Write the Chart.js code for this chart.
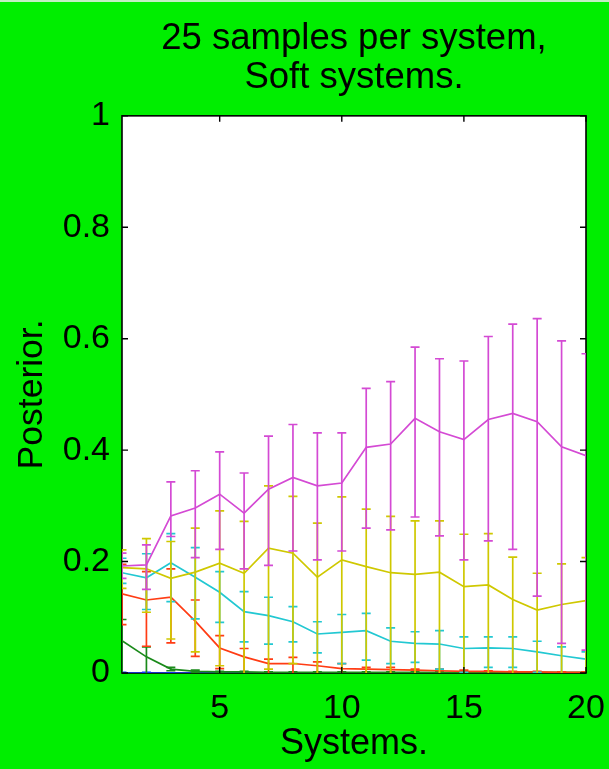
<!DOCTYPE html>
<html>
<head>
<meta charset="utf-8">
<script src="https://cdn.jsdelivr.net/npm/chart.js@4/dist/chart.umd.min.js"></script>
<style>
  html, body { margin: 0; padding: 0; background: #00ee00; }
  #wrap { width: 609px; height: 769px; }
</style>
</head>
<body>
<div id="wrap"><canvas id="chart" width="609" height="769"></canvas></div>
<script>
// Number of systems on the x axis
const systems = [1, 2, 3, 4, 5, 6, 7, 8, 9, 10, 11, 12, 13, 14, 15, 16, 17, 18, 19, 20];

// Posterior per model: mean with lower / upper error limits
const magentaMean = [0.192, 0.194, 0.282, 0.296, 0.321, 0.287, 0.330, 0.351, 0.336, 0.341, 0.405, 0.411, 0.457, 0.433, 0.419, 0.455, 0.466, 0.451, 0.406, 0.390];
const magentaHigh = [0.215, 0.230, 0.343, 0.363, 0.397, 0.359, 0.425, 0.446, 0.431, 0.431, 0.511, 0.523, 0.585, 0.564, 0.560, 0.604, 0.626, 0.636, 0.596, 0.573];
const magentaLow  = [0.170, 0.150, 0.245, 0.207, 0.222, 0.187, 0.193, 0.219, 0.203, 0.219, 0.260, 0.257, 0.280, 0.246, 0.203, 0.237, 0.222, 0.138, 0.053, 0.041];

const yellowMean = [0.189, 0.187, 0.170, 0.181, 0.197, 0.179, 0.224, 0.215, 0.172, 0.203, 0.191, 0.180, 0.177, 0.181, 0.155, 0.158, 0.132, 0.113, 0.123, 0.130];
const yellowHigh = [0.221, 0.241, 0.236, 0.260, 0.291, 0.272, 0.336, 0.317, 0.269, 0.316, 0.294, 0.281, 0.273, 0.273, 0.249, 0.250, 0.208, 0.179, 0.196, 0.207];
const yellowLow  = [0.152, 0.109, 0.061, 0.038, 0.013, -0.01, 0.007, 0.017, -0.01, -0.01, -0.01, -0.01, -0.01, -0.01, -0.01, -0.01, -0.01, -0.01, -0.01, -0.01];

const cyanMean = [0.180, 0.171, 0.198, 0.172, 0.145, 0.110, 0.103, 0.092, 0.070, 0.073, 0.076, 0.057, 0.053, 0.052, 0.044, 0.045, 0.044, 0.038, 0.031, 0.025];
const cyanHigh = [0.206, 0.214, 0.250, 0.225, 0.182, 0.146, 0.136, 0.119, 0.092, 0.105, 0.107, 0.081, 0.074, 0.076, 0.065, 0.065, 0.065, 0.057, 0.047, 0.038];
const cyanLow  = [0.161, 0.114, 0.128, 0.097, 0.091, 0.056, 0.052, 0.056, 0.036, 0.017, 0.023, 0.017, 0.019, 0.007, 0.001, 0.010, 0.010, 0.001, -0.01, -0.01];

const redMean = [0.142, 0.131, 0.136, 0.093, 0.045, 0.029, 0.017, 0.017, 0.013, 0.008, 0.007, 0.006, 0.005, 0.004, 0.003, 0.003, 0.002, 0.002, 0.001, 0.001];
const redHigh = [0.195, 0.182, 0.187, 0.131, 0.067, 0.044, 0.025, 0.028, 0.020, 0.017, 0.010, 0.010, 0.007, 0.007, 0.005, 0.004, 0.003, 0.003, 0.002, 0.002];
const redLow  = [0.087, 0.048, 0.054, 0.030, 0.008, -0.01, -0.01, -0.01, -0.01, -0.01, -0.01, -0.01, -0.01, -0.01, -0.01, -0.01, -0.01, -0.01, -0.01, -0.01];

const greenMean = [0.058, 0.029, 0.007, 0.003, 0.002, 0.002, 0.001, 0.001, 0.001, 0.001, 0.001, 0.001, 0.001, 0.001, 0.001, 0.001, 0.001, 0.001, 0.001, 0.001];
const greenHigh = [0.096, 0.047, 0.010, 0.005, 0.003, 0.003, 0.002, 0.002, 0.002, 0.002, 0.002, 0.002, 0.002, 0.002, 0.002, 0.002, 0.002, 0.002, 0.002, 0.002];
const greenLow  = [-0.01, -0.01, 0.004, 0.001, 0.000, 0.000, 0.000, 0.000, 0.000, 0.000, 0.000, 0.000, 0.000, 0.000, 0.000, 0.000, 0.000, 0.000, 0.000, 0.000];

const blueMean = [0.000, 0.000, 0.000, 0.000, 0.000, 0.000, 0.000, 0.000, 0.000, 0.000, 0.000, 0.000, 0.000, 0.000, 0.000, 0.000, 0.000, 0.000, 0.000, 0.000];
const blueHigh = [0.001, 0.001, 0.000, 0.000, 0.000, 0.000, 0.000, 0.000, 0.000, 0.000, 0.000, 0.000, 0.000, 0.000, 0.000, 0.000, 0.000, 0.000, 0.000, 0.000];
const blueLow  = [0.000, 0.000, 0.000, 0.000, 0.000, 0.000, 0.000, 0.000, 0.000, 0.000, 0.000, 0.000, 0.000, 0.000, 0.000, 0.000, 0.000, 0.000, 0.000, 0.000];

// Axis ticks and texts
const xTicks = [5, 10, 15, 20];
const yTicks = [0, 0.2, 0.4, 0.6, 0.8, 1];
const titleLines = ['25 samples per system,', 'Soft systems.'];
const xTitle = 'Systems.';
const yTitle = 'Posterior.';

const FONT = '"Liberation Sans", Arial, Helvetica, sans-serif';
const BG = '#00ee00';

function series(color, mean, low, high) {
  return {
    data: systems.map((x, i) => ({ x: x, y: mean[i] })),
    errLow: low,
    errHigh: high,
    borderColor: color,
    backgroundColor: color,
    borderWidth: 1.7,
    pointRadius: 0,
    tension: 0,
    fill: false
  };
}

// Background, plot box, inward tick marks and error bars
const framePlugin = {
  id: 'frame',
  beforeDraw(chart) {
    const { ctx, chartArea: a } = chart;
    ctx.save();
    ctx.fillStyle = BG;
    ctx.fillRect(0, 0, chart.width, chart.height);
    ctx.fillStyle = '#c4eec4';
    ctx.fillRect(0, 0, chart.width, 2);
    ctx.fillStyle = '#ffffff';
    ctx.fillRect(a.left, a.top, a.right - a.left, a.bottom - a.top);
    ctx.restore();
  },
  beforeDatasetsDraw(chart) {
    const { ctx, chartArea: a } = chart;
    ctx.save();
    ctx.strokeStyle = '#000';
    ctx.lineWidth = 1.6;
    ctx.strokeRect(a.left, a.top, a.right - a.left, a.bottom - a.top);
    ctx.restore();
  },
  afterDatasetDraw(chart, args) {
    const ds = chart.data.datasets[args.index];
    const { ctx, chartArea: a } = chart;
    const xs = chart.scales.x, ys = chart.scales.y;
    ctx.save();
    ctx.beginPath();
    ctx.rect(a.left, a.top, a.right - a.left, a.bottom - a.top);
    ctx.clip();
    ctx.strokeStyle = ds.borderColor;
    ctx.lineWidth = 1.7;
    const cap = 4.5;
    systems.forEach((x, i) => {
      const px = xs.getPixelForValue(x);
      const yl = ys.getPixelForValue(ds.errLow[i]);
      const yh = ys.getPixelForValue(ds.errHigh[i]);
      ctx.beginPath();
      ctx.moveTo(px, yl); ctx.lineTo(px, yh);
      ctx.moveTo(px - cap, yl); ctx.lineTo(px + cap, yl);
      ctx.moveTo(px - cap, yh); ctx.lineTo(px + cap, yh);
      ctx.stroke();
    });
    ctx.restore();
  },
  afterDatasetsDraw(chart) {
    const { ctx, chartArea: a } = chart;
    const xs = chart.scales.x, ys = chart.scales.y;
    const len = 6;
    ctx.save();
    ctx.strokeStyle = '#000';
    ctx.lineWidth = 1.4;
    ctx.beginPath();
    yTicks.forEach(v => {
      const py = ys.getPixelForValue(v);
      ctx.moveTo(a.left, py); ctx.lineTo(a.left + len, py);
      ctx.moveTo(a.right, py); ctx.lineTo(a.right - len, py);
    });
    xTicks.forEach(v => {
      const px = xs.getPixelForValue(v);
      ctx.moveTo(px, a.bottom); ctx.lineTo(px, a.bottom - len);
      ctx.moveTo(px, a.top); ctx.lineTo(px, a.top + len);
    });
    ctx.stroke();
    ctx.restore();
  }
};

new Chart(document.getElementById('chart'), {
  type: 'line',
  data: {
    datasets: [
      series('#d44ad4', magentaMean, magentaLow, magentaHigh),
      series('#cfc800', yellowMean, yellowLow, yellowHigh),
      series('#22c8d2', cyanMean, cyanLow, cyanHigh),
      series('#ff3c14', redMean, redLow, redHigh),
      series('#1a8a1a', greenMean, greenLow, greenHigh),
      series('#1030ff', blueMean, blueLow, blueHigh)
    ]
  },
  options: {
    responsive: false,
    animation: false,
    devicePixelRatio: 1,
    layout: { padding: { left: 0, right: 23, top: 0, bottom: 0 } },
    plugins: {
      legend: { display: false },
      tooltip: { enabled: false },
      title: {
        display: true,
        fullSize: false,
        text: titleLines,
        color: '#000',
        font: { family: FONT, size: 36.5, weight: 'normal', lineHeight: 1.08 },
        padding: { top: 19, bottom: 18 }
      }
    },
    scales: {
      x: {
        type: 'linear',
        min: 1,
        max: 20,
        grid: { display: false, drawTicks: false },
        border: { display: false },
        afterBuildTicks: s => { s.ticks = xTicks.map(v => ({ value: v })); },
        afterFit: s => { s.height = 96; s.paddingLeft = 0; s.paddingRight = 0; },
        ticks: {
          color: '#000',
          autoSkip: false,
          maxRotation: 0,
          padding: 15,
          font: { family: FONT, size: 34 },
          callback: v => String(v)
        },
        title: {
          display: true,
          text: xTitle,
          color: '#000',
          font: { family: FONT, size: 36 },
          padding: { top: 0, bottom: 3 }
        }
      },
      y: {
        type: 'linear',
        min: 0,
        max: 1,
        grid: { display: false, drawTicks: false },
        border: { display: false },
        afterBuildTicks: s => { s.ticks = yTicks.map(v => ({ value: v })); },
        afterFit: s => { s.width = 122; s.paddingTop = 0; s.paddingBottom = 0; },
        ticks: {
          color: '#000',
          padding: 12,
          font: { family: FONT, size: 34 },
          callback: v => String(v)
        },
        title: {
          display: true,
          text: yTitle,
          color: '#000',
          font: { family: FONT, size: 35.5 },
          padding: { top: 11, bottom: 0 }
        }
      }
    }
  },
  plugins: [framePlugin]
});
</script>
</body>
</html>
